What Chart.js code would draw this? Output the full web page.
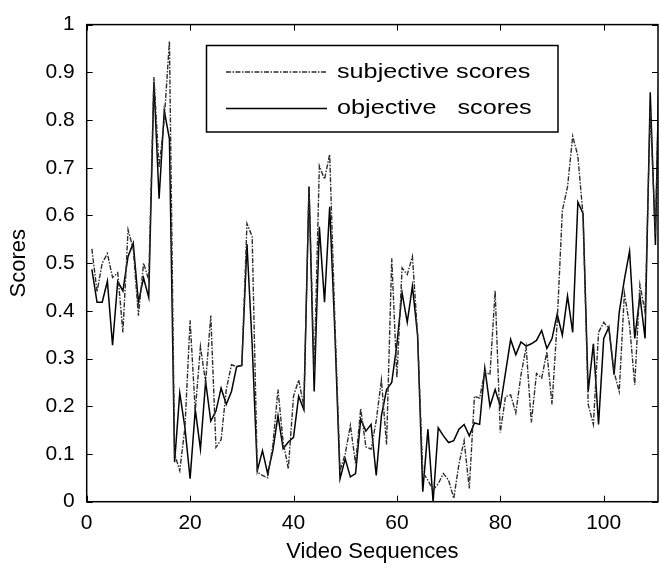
<!DOCTYPE html>
<html>
<head>
<meta charset="utf-8">
<script src="https://cdn.jsdelivr.net/npm/chart.js@4"></script>
<style>
  html, body { margin: 0; padding: 0; background: #fff; }
  #wrap { width: 660px; height: 569px; }
</style>
</head>
<body>
<div id="wrap"><canvas id="myChart" width="660" height="569"></canvas></div>
<script>
// scores, one per video sequence (1..111)
const subjective = [
  0.53, 0.44, 0.50, 0.52, 0.47, 0.48, 0.355, 0.57, 0.53, 0.39,
  0.50, 0.465, 0.89, 0.70, 0.80, 0.965, 0.10, 0.065, 0.155, 0.38,
  0.19, 0.325, 0.25, 0.39, 0.114, 0.13, 0.235, 0.287, 0.283, 0.285,
  0.583, 0.556, 0.062, 0.055, 0.05, 0.118, 0.235, 0.125, 0.069, 0.221,
  0.255, 0.20, 0.661, 0.27, 0.704, 0.676, 0.728, 0.38, 0.065, 0.10,
  0.16, 0.08, 0.195, 0.115, 0.11, 0.17, 0.255, 0.12, 0.51, 0.26,
  0.49, 0.476, 0.514, 0.35, 0.062, 0.045, 0.024, 0.038, 0.059, 0.045,
  0.007, 0.079, 0.128, 0.028, 0.221, 0.217, 0.273, 0.266, 0.442, 0.145,
  0.22, 0.224, 0.186, 0.266, 0.324, 0.166, 0.269, 0.259, 0.314, 0.204,
  0.376, 0.61, 0.66, 0.766, 0.725, 0.60, 0.204, 0.162, 0.355, 0.376,
  0.363, 0.272, 0.231, 0.437, 0.37, 0.245, 0.455, 0.397, 0.82, 0.56,
  1.05
];
const objective = [
  0.487, 0.418, 0.418, 0.462, 0.328, 0.462, 0.442, 0.514, 0.542, 0.418,
  0.469, 0.428, 0.88, 0.635, 0.82, 0.76, 0.083, 0.228, 0.155, 0.048,
  0.193, 0.11, 0.252, 0.169, 0.19, 0.238, 0.204, 0.231, 0.283, 0.286,
  0.54, 0.33, 0.065, 0.107, 0.059, 0.107, 0.18, 0.111, 0.125, 0.135,
  0.221, 0.193, 0.66, 0.231, 0.576, 0.418, 0.618, 0.355, 0.048, 0.09,
  0.052, 0.059, 0.173, 0.148, 0.162, 0.055, 0.18, 0.235, 0.25, 0.33,
  0.438, 0.376, 0.452, 0.349, 0.021, 0.152, 0.0, 0.155, 0.138, 0.124,
  0.128, 0.152, 0.162, 0.138, 0.165, 0.162, 0.28, 0.20, 0.235, 0.20,
  0.27, 0.34, 0.308, 0.335, 0.326, 0.331, 0.338, 0.359, 0.321, 0.342,
  0.393, 0.349, 0.431, 0.355, 0.628, 0.604, 0.231, 0.331, 0.162, 0.342,
  0.366, 0.266, 0.397, 0.466, 0.525, 0.342, 0.431, 0.342, 0.858, 0.538,
  1.08
];
const sequences = subjective.map((_, i) => i + 1);
const xTicks = [0, 20, 40, 60, 80, 100];
const yTicks = [0, 0.1, 0.2, 0.3, 0.4, 0.5, 0.6, 0.7, 0.8, 0.9, 1];
const seriesNames = ['subjective scores', 'objective   scores'];

const FONT = 'Liberation Sans, Arial, sans-serif';

// matlab style box with inward ticks on all sides + boxed legend
const frame = {
  id: 'frame',
  afterDraw(chart) {
    const { ctx, chartArea: a, scales } = chart;
    ctx.save();
    ctx.strokeStyle = '#000';
    ctx.lineWidth = 1;
    ctx.beginPath();
    xTicks.forEach(v => {
      const px = Math.round(scales.x.getPixelForValue(v)) + 0.5;
      ctx.moveTo(px, a.bottom); ctx.lineTo(px, a.bottom - 6);
      ctx.moveTo(px, a.top); ctx.lineTo(px, a.top + 6);
    });
    yTicks.forEach(v => {
      const py = Math.round(scales.y.getPixelForValue(v)) + 0.5;
      ctx.moveTo(a.left, py); ctx.lineTo(a.left + 6, py);
      ctx.moveTo(a.right, py); ctx.lineTo(a.right - 6, py);
    });
    ctx.stroke();
    ctx.lineWidth = 1.5;
    ctx.strokeRect(a.left, a.top, a.right - a.left, a.bottom - a.top);

    // legend
    const box = { l: 206.5, t: 45.5, r: 558, b: 132 };
    ctx.fillStyle = '#fff';
    ctx.fillRect(box.l, box.t, box.r - box.l, box.b - box.t);
    ctx.lineWidth = 1.5;
    ctx.strokeRect(box.l, box.t, box.r - box.l, box.b - box.t);
    const rows = [72, 108.5];
    chart.data.datasets.forEach((ds, i) => {
      ctx.beginPath();
      ctx.setLineDash(ds.borderDash || []);
      ctx.strokeStyle = ds.borderColor;
      ctx.lineWidth = ds.borderWidth;
      ctx.moveTo(226, rows[i]); ctx.lineTo(327, rows[i]);
      ctx.stroke();
      ctx.setLineDash([]);
      ctx.save();
      ctx.translate(337, rows[i]);
      ctx.scale(1.2, 1);
      ctx.fillStyle = '#000';
      ctx.font = '21px ' + FONT;
      ctx.textBaseline = 'middle';
      ctx.fillText(seriesNames[i], 0, 0);
      ctx.restore();
    });
    ctx.restore();
  }
};

const ctx = document.getElementById('myChart').getContext('2d');
const myChart = new Chart(ctx, {
  type: 'line',
  data: {
    datasets: [{
      label: seriesNames[0],
      data: sequences.map((s, i) => ({ x: s, y: subjective[i] })),
      borderColor: '#2e2e2e',
      borderWidth: 1.4,
      borderDash: [5, 1.5, 1.5, 1.5],
      pointRadius: 0,
      tension: 0,
      fill: false
    }, {
      label: seriesNames[1],
      data: sequences.map((s, i) => ({ x: s, y: objective[i] })),
      borderColor: '#000',
      borderWidth: 1.5,
      pointRadius: 0,
      tension: 0,
      fill: false
    }]
  },
  options: {
    responsive: false,
    animation: false,
    layout: { padding: { left: 0, right: 2, top: 17.5, bottom: 0 } },
    plugins: { legend: { display: false }, tooltip: { enabled: false } },
    scales: {
      x: {
        type: 'linear',
        min: 0,
        max: 110.5,
        afterBuildTicks: s => { s.ticks = xTicks.map(v => ({ value: v })); },
        afterFit: s => { s.height = 67.3; },
        grid: { display: false, drawTicks: false },
        border: { display: false },
        ticks: { color: '#000', font: { family: FONT, size: 21 }, padding: 9, maxRotation: 0 },
        title: { display: true, text: 'Video Sequences', color: '#000', font: { family: FONT, size: 22 }, padding: { top: 1 } }
      },
      y: {
        min: 0,
        max: 1,
        afterBuildTicks: s => { s.ticks = yTicks.map(v => ({ value: v })); },
        afterFit: s => { s.width = 86.7; },
        grid: { display: false, drawTicks: false },
        border: { display: false },
        ticks: { color: '#000', font: { family: FONT, size: 21 }, padding: 12,
          callback: v => String(Math.round(v * 10) / 10) },
        title: { display: true, text: 'Scores', color: '#000', font: { family: FONT, size: 22 }, padding: { top: 6, bottom: 4 } }
      }
    }
  },
  plugins: [frame]
});
</script>
</body>
</html>
